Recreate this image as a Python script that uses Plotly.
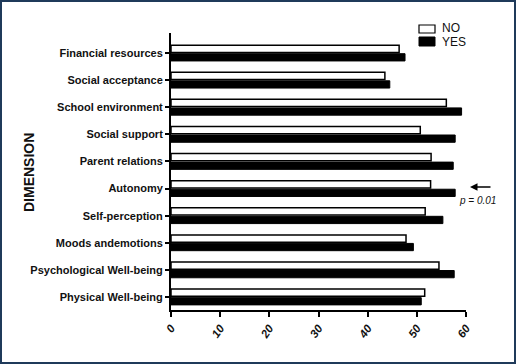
import plotly.graph_objects as go

categories = ["Financial resources", "Social acceptance", "School environment",
              "Social support", "Parent relations", "Autonomy", "Self-perception",
              "Moods andemotions", "Psychological Well-being", "Physical Well-being"]
no_values = [46.4, 43.5, 56.0, 50.7, 52.9, 52.8, 51.7, 47.8, 54.5, 51.6]
yes_values = [47.6, 44.5, 59.1, 57.8, 57.4, 57.8, 55.3, 49.3, 57.6, 50.9]
x_ticks = [0, 10, 20, 30, 40, 50, 60]

SANS = "Liberation Sans, Arial, sans-serif"

W, H = 516, 364
L, R, T, B = 171, 50, 33, 54
PW, PH = W - L - R, H - T - B

def px(x):
    return (x - L) / PW

def py(y):
    return (H - B - y) / PH

fig = go.Figure()
fig.add_trace(go.Bar(y=categories, x=no_values, orientation="h", name="NO",
                     marker=dict(color="white", line=dict(color="black", width=1.5)),
                     showlegend=False))
fig.add_trace(go.Bar(y=categories, x=yes_values, orientation="h", name="YES",
                     marker=dict(color="black", line=dict(color="black", width=1)),
                     showlegend=False))

fig.update_layout(
    width=W, height=H,
    margin=dict(l=L, r=R, t=T, b=B, pad=0),
    paper_bgcolor="white", plot_bgcolor="white",
    barmode="group", bargap=0.37, bargroupgap=0.15,
    font=dict(family=SANS, color="#111"),
    xaxis=dict(range=[0, 60], tickvals=x_ticks, showgrid=False, zeroline=False,
               automargin=False,
               showline=True, linecolor="black", linewidth=2,
               ticks="outside", ticklen=5, tickwidth=2, tickcolor="black",
               tickangle=-55, tickfont=dict(family=SANS, size=11.5, weight=700, style="italic")),
    yaxis=dict(categoryorder="array", categoryarray=categories, automargin=False,
               range=[9.48, -0.74], showgrid=False, zeroline=False,
               showline=True, linecolor="black", linewidth=2,
               ticks="outside", ticklen=4, tickwidth=1.5, tickcolor="black",
               tickfont=dict(family=SANS, size=11, weight=700)),
)

# axis title
fig.add_annotation(text="DIMENSION", xref="paper", yref="paper", x=px(29), y=py(173),
                   xanchor="center", yanchor="middle",
                   textangle=-90, showarrow=False,
                   font=dict(family=SANS, size=14, weight=700, color="#111"))

# legend (manual)
fig.add_shape(type="rect", xref="paper", yref="paper", x0=px(419), x1=px(435),
              y0=py(33), y1=py(25), line=dict(color="black", width=1.2), fillcolor="white")
fig.add_shape(type="rect", xref="paper", yref="paper", x0=px(419), x1=px(435),
              y0=py(46), y1=py(37), line=dict(color="black", width=1), fillcolor="black")
fig.add_annotation(text="NO", xref="paper", yref="paper", x=px(440), y=py(28),
                   xanchor="left", yanchor="middle", showarrow=False,
                   font=dict(family=SANS, size=12, color="#111"))
fig.add_annotation(text="YES", xref="paper", yref="paper", x=px(440), y=py(42),
                   xanchor="left", yanchor="middle", showarrow=False,
                   font=dict(family=SANS, size=12, color="#111"))

# p-value arrow
fig.add_annotation(text="", xref="paper", yref="paper", x=px(470), y=py(187),
                   ax=22, ay=0, showarrow=True, arrowhead=2, arrowsize=1,
                   arrowwidth=1.5, arrowcolor="black")
fig.add_annotation(text="p = 0.01", xref="paper", yref="paper", x=px(457), y=py(200),
                   xanchor="left", yanchor="middle", showarrow=False,
                   font=dict(family=SANS, size=10, style="italic", color="#111"))

# outer frame
fig.add_shape(type="rect", xref="paper", yref="paper", x0=px(1), x1=px(515),
              y0=py(363), y1=py(1), line=dict(color="#1f3a5a", width=2))

fig.write_html("out.html", post_script="document.body.style.margin='0';",
               config={"displayModeBar": False})
